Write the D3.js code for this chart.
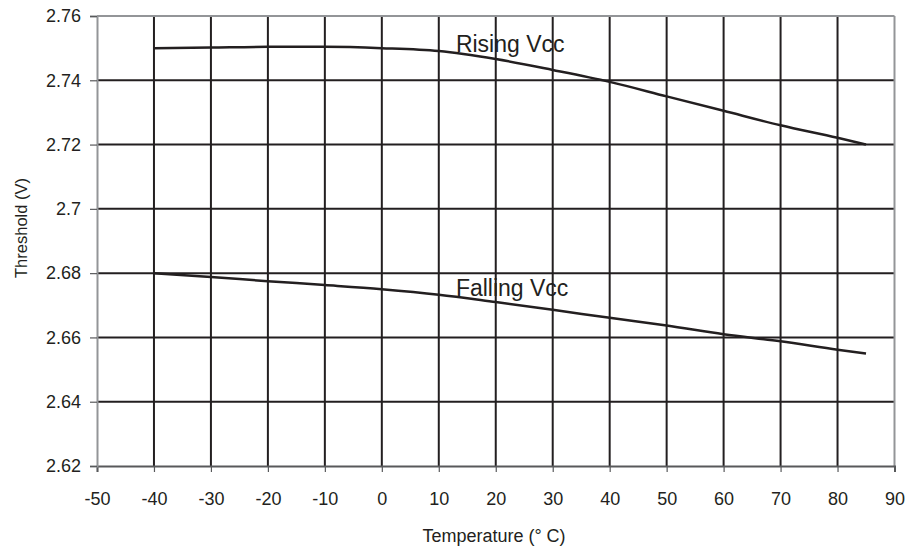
<!DOCTYPE html>
<html>
<head>
<meta charset="utf-8">
<script src="https://cdn.jsdelivr.net/npm/d3@7"></script>
<style>
  html, body { margin: 0; padding: 0; background: #fff; }
  svg { display: block; font-family: "Liberation Sans", Arial, sans-serif; }
</style>
</head>
<body>
<svg id="chart" width="911" height="550"></svg>
<script>
const temps = [-40, -30, -20, -10, 0, 10, 20, 30, 40, 50, 60, 70, 80, 85];
const risingVcc = [2.7500, 2.7502, 2.7504, 2.7504, 2.7500, 2.7491, 2.7466, 2.7432, 2.7395, 2.7350, 2.7305, 2.7260, 2.7221, 2.7200];
const fallingVcc = [2.6800, 2.6788, 2.6775, 2.6763, 2.6750, 2.6733, 2.6710, 2.6686, 2.6661, 2.6637, 2.6610, 2.6588, 2.6562, 2.6550];
const xTicks = [-50, -40, -30, -20, -10, 0, 10, 20, 30, 40, 50, 60, 70, 80, 90];
const xTickLabels = ["-50", "-40", "-30", "-20", "-10", "0", "10", "20", "30", "40", "50", "60", "70", "80", "90"];
const yTicks = [2.62, 2.64, 2.66, 2.68, 2.70, 2.72, 2.74, 2.76];
const yTickLabels = ["2.62", "2.64", "2.66", "2.68", "2.7", "2.72", "2.74", "2.76"];
const seriesLabels = [
  { name: "Rising Vcc", x: 13, y: 2.7488 },
  { name: "Falling Vcc", x: 13, y: 2.6729 }
];

(function () {
const svg = d3.select("#chart");
const mLeft = 97, mRight = 894.5, mTop = 16, mBottom = 466;
const x = d3.scaleLinear().domain([-50, 90]).range([mLeft, mRight]);
const y = d3.scaleLinear().domain([2.62, 2.76]).range([mBottom, mTop]);
const dark = "#231f20", grey = "#939598";

// gridlines
svg.append("g").selectAll("line").data(xTicks.slice(1, -1)).join("line")
  .attr("x1", d => x(d)).attr("x2", d => x(d))
  .attr("y1", mTop).attr("y2", mBottom)
  .attr("stroke", dark).attr("stroke-width", 2);
svg.append("g").selectAll("line").data(yTicks.slice(1, -1)).join("line")
  .attr("x1", mLeft).attr("x2", mRight)
  .attr("y1", d => y(d)).attr("y2", d => y(d))
  .attr("stroke", dark).attr("stroke-width", 2);

// frame top/right
svg.append("line").attr("x1", mLeft).attr("x2", mRight).attr("y1", mTop).attr("y2", mTop)
  .attr("stroke", grey).attr("stroke-width", 2);
svg.append("line").attr("x1", mRight).attr("x2", mRight).attr("y1", mTop).attr("y2", mBottom)
  .attr("stroke", grey).attr("stroke-width", 2);

// axes
const xAxis = d3.axisBottom(x).tickValues(xTicks).tickSize(6).tickPadding(20)
  .tickFormat((d, i) => xTickLabels[i]);
const gx = svg.append("g").attr("transform", `translate(0,${mBottom})`).call(xAxis);
gx.select(".domain").attr("stroke", "#58595b").attr("stroke-width", 2);
gx.selectAll(".tick line").attr("stroke", "#58595b").attr("stroke-width", 1.2);
gx.selectAll(".tick text").attr("font-size", 18).attr("fill", dark)
  .attr("font-family", "Liberation Sans, Arial, sans-serif");

const yAxis = d3.axisLeft(y).tickValues(yTicks).tickSize(7).tickPadding(9)
  .tickFormat((d, i) => yTickLabels[i]);
const gy = svg.append("g").attr("transform", `translate(${mLeft},0)`).call(yAxis);
gy.select(".domain").attr("stroke", grey).attr("stroke-width", 2);
gy.selectAll(".tick line").attr("stroke", "#58595b").attr("stroke-width", 1.2);
gy.selectAll(".tick text").attr("font-size", 18).attr("fill", dark)
  .attr("font-family", "Liberation Sans, Arial, sans-serif");

// series lines
const line = d3.line().x((d, i) => x(temps[i])).y(d => y(d)).curve(d3.curveMonotoneX);
[risingVcc, fallingVcc].forEach(s => {
  svg.append("path").datum(s).attr("d", line)
    .attr("fill", "none").attr("stroke", dark).attr("stroke-width", 2.5);
});

// series labels
svg.append("g").selectAll("text").data(seriesLabels).join("text")
  .attr("x", d => x(d.x)).attr("y", d => y(d.y))
  .attr("font-size", 23).attr("fill", dark)
  .text(d => d.name);

// axis titles
svg.append("text").attr("x", 494).attr("y", 542).attr("text-anchor", "middle")
  .attr("font-size", 18).attr("fill", dark).text("Temperature (° C)");
svg.append("text").attr("transform", "translate(27,228) rotate(-90)")
  .attr("text-anchor", "middle").attr("font-size", 16.5).attr("fill", dark)
  .text("Threshold (V)");
})();
</script>
</body>
</html>
